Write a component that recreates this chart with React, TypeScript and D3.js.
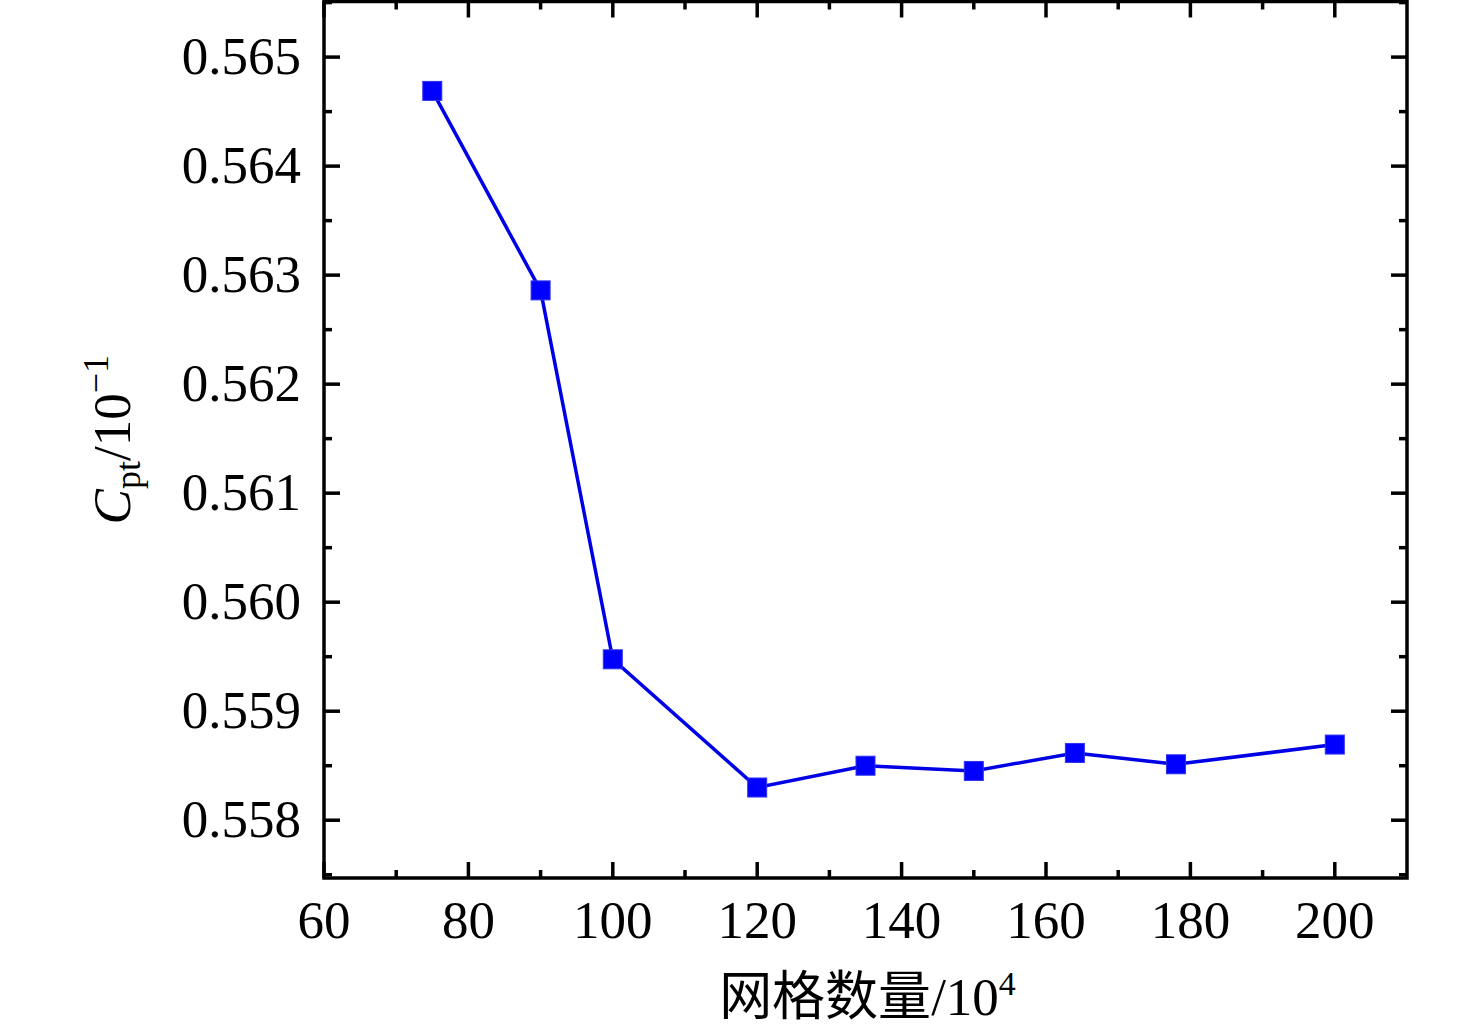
import React, { useEffect, useRef } from "react";
import * as d3 from "d3";

// grid count (x10^4) vs Cpt (x10^-1)
const gridCounts = [75, 90, 100, 120, 135, 150, 164, 178, 200];
const cptValues = [
  0.56469, 0.56286, 0.559476, 0.5583, 0.5585, 0.558452, 0.558617, 0.558513,
  0.558694,
];
const xTickValues = [60, 80, 100, 120, 140, 160, 180, 200];
const yTickValues = [0.558, 0.559, 0.56, 0.561, 0.562, 0.563, 0.564, 0.565];

const App: React.FC = () => {
  const svgRef = useRef<SVGSVGElement | null>(null);

  useEffect(() => {
    if (!svgRef.current) return;
    const width = 1476;
    const height = 1030;
    const plot = { left: 324, right: 1407, top: 1.5, bottom: 878 };
    const serif = "'Liberation Serif', 'Times New Roman', serif";
    const cjk = "'Noto Sans CJK SC', sans-serif";

    const svg = d3.select(svgRef.current);
    svg.selectAll("*").remove();
    svg.attr("width", width).attr("height", height);

    const x = d3.scaleLinear().domain([60, 210]).range([plot.left, plot.right]);
    const y = d3
      .scaleLinear()
      .domain([0.55747, 0.56551])
      .range([plot.bottom, plot.top]);

    const data = gridCounts.map((g, i) => ({ g, v: cptValues[i] }));

    // minor ticks halfway between majors
    const xMinor = xTickValues.map((t) => t + 10).filter((t) => t < 210);
    const yMinor = yTickValues
      .map((t) => t + 0.0005)
      .concat([0.5575])
      .filter((t) => t > 0.55747 && t < 0.56551);

    const tickG = svg
      .append("g")
      .attr("stroke", "black")
      .attr("stroke-width", 3.5);
    const addX = (vals: number[], len: number) => {
      vals.forEach((t) => {
        tickG
          .append("line")
          .attr("x1", x(t))
          .attr("x2", x(t))
          .attr("y1", plot.bottom)
          .attr("y2", plot.bottom - len);
        tickG
          .append("line")
          .attr("x1", x(t))
          .attr("x2", x(t))
          .attr("y1", plot.top)
          .attr("y2", plot.top + len);
      });
    };
    const addY = (vals: number[], len: number) => {
      vals.forEach((t) => {
        tickG
          .append("line")
          .attr("x1", plot.left)
          .attr("x2", plot.left + len)
          .attr("y1", y(t))
          .attr("y2", y(t));
        tickG
          .append("line")
          .attr("x1", plot.right)
          .attr("x2", plot.right - len)
          .attr("y1", y(t))
          .attr("y2", y(t));
      });
    };
    addX(xTickValues, 16);
    addX(xMinor, 8);
    addY(yTickValues, 16);
    addY(yMinor, 8);

    // frame
    svg
      .append("rect")
      .attr("x", plot.left)
      .attr("y", plot.top)
      .attr("width", plot.right - plot.left)
      .attr("height", plot.bottom - plot.top)
      .attr("fill", "none")
      .attr("stroke", "black")
      .attr("stroke-width", 3.5);

    // tick labels
    svg
      .selectAll(".xlab")
      .data(xTickValues)
      .join("text")
      .attr("class", "xlab")
      .attr("x", (d) => x(d))
      .attr("y", 938)
      .attr("text-anchor", "middle")
      .attr("font-family", serif)
      .attr("font-size", 53)
      .text((d) => d);

    svg
      .selectAll(".ylab")
      .data(yTickValues)
      .join("text")
      .attr("class", "ylab")
      .attr("x", 301)
      .attr("y", (d) => y(d) + 17)
      .attr("text-anchor", "end")
      .attr("font-family", serif)
      .attr("font-size", 53)
      .text((d) => d3.format(".3f")(d));

    // line + markers
    const line = d3
      .line<{ g: number; v: number }>()
      .x((d) => x(d.g))
      .y((d) => y(d.v));

    svg
      .append("path")
      .datum(data)
      .attr("d", line)
      .attr("fill", "none")
      .attr("stroke", "#0000e6")
      .attr("stroke-width", 3.5);

    const size = 19;
    svg
      .selectAll(".pt")
      .data(data)
      .join("rect")
      .attr("class", "pt")
      .attr("x", (d) => x(d.g) - size / 2)
      .attr("y", (d) => y(d.v) - size / 2)
      .attr("width", size)
      .attr("height", size)
      .attr("fill", "#0000ff")
      .attr("stroke", "#3030f0")
      .attr("stroke-width", 1);

    // x axis title
    const xt = svg
      .append("text")
      .attr("x", (plot.left + plot.right) / 2 + 2)
      .attr("y", 1015)
      .attr("text-anchor", "middle")
      .attr("font-size", 53)
      .attr("font-family", serif);
    xt.append("tspan").attr("font-family", cjk).attr("font-size", 53).text("网格数量");
    xt.append("tspan").text("/10");
    xt.append("tspan").attr("font-size", 34).attr("dy", -20).text("4");

    // y axis title
    const yt = svg
      .append("text")
      .attr("transform", `translate(130,${(plot.top + plot.bottom) / 2}) rotate(-90)`)
      .attr("text-anchor", "middle")
      .attr("font-size", 53)
      .attr("font-family", serif);
    yt.append("tspan").attr("font-style", "italic").text("C");
    yt.append("tspan").attr("font-size", 36).attr("dy", 10).text("pt");
    yt.append("tspan").attr("dy", -10).text("/10");
    yt.append("tspan").attr("font-size", 36).attr("dy", -22).text("−1");
  }, []);

  return (
    <svg
      ref={svgRef}
      width={1476}
      height={1030}
      style={{ position: "absolute", left: 0, top: 0, background: "white" }}
    ></svg>
  );
};

export default App;
